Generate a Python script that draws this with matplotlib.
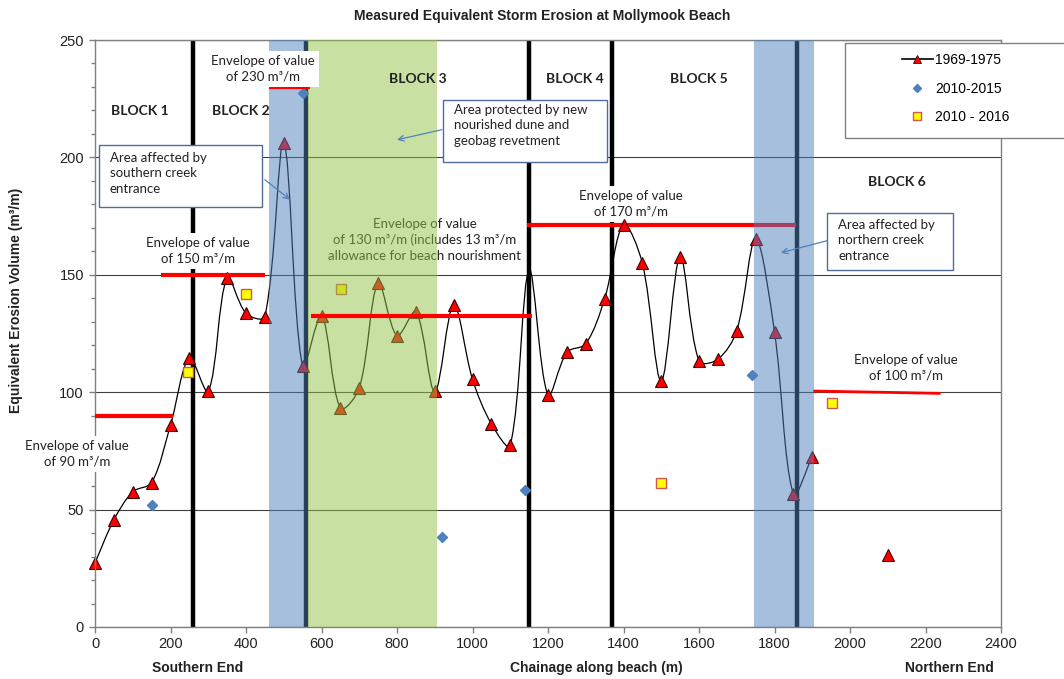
import numpy as np
import matplotlib
matplotlib.use('Agg')
import matplotlib.pyplot as plt
from matplotlib.path import Path
from matplotlib.patches import PathPatch, Rectangle
from matplotlib.lines import Line2D

# 1969-1975 profile, every 50 m (1150 has no visible marker)
chain_69 = [0, 50, 100, 150, 200, 250, 300, 350, 400, 450, 500, 550, 600, 650, 700,
            750, 800, 850, 900, 950, 1000, 1050, 1100, 1150, 1200, 1250, 1300, 1350,
            1400, 1450, 1500, 1550, 1600, 1650, 1700, 1750, 1800, 1850, 1900]
vol_69 = [27.3, 45.6, 57.6, 61.5, 86, 114.5, 100.3, 148.7, 133.6, 132.2, 206.3, 111,
          132.5, 93.2, 101.7, 146.4, 124.1, 134.3, 100.3, 137.2, 105.5, 86.5, 77.3, 152,
          98.8, 117, 120.6, 139.8, 171.3, 154.9, 104.8, 157.7, 113.3, 114, 126.2, 165.3,
          125.6, 56.5, 72.6]
hidden_marker = [1150]
chain_69_iso = [2100]
vol_69_iso = [30.7]

chain_15 = [150, 550, 920, 1140, 1740]
vol_15 = [52, 227.3, 38.2, 58.4, 107.4]

chain_16 = [247, 400, 652, 1500, 1951]
vol_16 = [108.4, 141.8, 143.9, 61.5, 95.3]

# envelopes: x start, x end, y start, y end
env_x0 = [0, 176, 461, 571, 1144, 1903]
env_x1 = [206, 450, 570, 1157, 1857, 2240]
env_y0 = [90, 150, 230, 132.5, 171, 100.5]
env_y1 = [90, 150, 230, 132.5, 171, 99.5]

block_lines = [260, 560, 1150, 1370, 1860]
creek_spans = [(460, 565), (1745, 1905)]
dune_span = (565, 905)

calibri = ['Lato', 'DejaVu Sans']
txt_col = '#222222'

plt.rcParams['font.family'] = ['Liberation Sans', 'DejaVu Sans']


def excel_smooth(x, y, sx, sy):
    # Bezier path through the points, tangents weighted by segment length (pixels)
    pts = np.column_stack([x, y]).astype(float)
    n = len(pts)
    scale = np.array([sx, sy])

    def dist(a, b):
        return np.hypot(*((b - a) * scale))

    verts = [pts[0]]
    codes = [Path.MOVETO]
    for i in range(n - 1):
        p0 = pts[max(i - 1, 0)]
        p1 = pts[i]
        p2 = pts[i + 1]
        p3 = pts[min(i + 2, n - 1)]
        d01, d12, d23 = dist(p0, p1), dist(p1, p2), dist(p2, p3)
        c1 = p1 + (p2 - p0) * d12 / (d01 + d12) / 3
        c2 = p2 - (p3 - p1) * d12 / (d12 + d23) / 3
        verts += [c1, c2, p2]
        codes += [Path.CURVE4] * 3
    return Path(verts, codes)


fig = plt.figure(figsize=(10.64, 6.79), dpi=100)
ax = fig.add_axes([95/1064, 1 - 627/679, 906/1064, 587/679])
ax.set_xlim(0, 2400)
ax.set_ylim(0, 250)
ax.set_xticks(np.arange(0, 2401, 200))
ax.set_yticks(np.arange(0, 251, 50))
ax.set_yticks(np.arange(0, 251, 10), minor=True)
ax.tick_params(axis='both', which='major', direction='out', length=4, width=1,
               color='#808080', labelsize=10.5, labelcolor='#222222')
ax.tick_params(axis='y', which='minor', direction='out', length=3, width=1, color='#808080')
ax.tick_params(axis='y', pad=4)
ax.tick_params(axis='x', pad=3)
for s in ax.spines.values():
    s.set_color('#808080')
    s.set_linewidth(1)
ax.grid(axis='y', which='major', color='#404040', lw=0.8, zorder=0.5)
ax.set_axisbelow(True)

for xb in block_lines:
    ax.axvline(xb, color='black', lw=3.2, zorder=1)

ax.add_patch(PathPatch(excel_smooth(chain_69, vol_69, 906/2400, 587/250),
                       fc='none', ec='black', lw=0.9, zorder=2))

mk = [c not in hidden_marker for c in chain_69]
tri = dict(marker='^', ms=9, mfc='red', mec='#3a0000', mew=0.8, ls='none', zorder=2.2,
           clip_on=False)
ax.plot(np.array(chain_69)[mk], np.array(vol_69)[mk], **tri)
ax.plot(chain_69_iso, vol_69_iso, **tri)
ax.plot(chain_15, vol_15, marker='D', ms=5.5, mfc='#4F81BD', mec='#4F81BD', ls='none', zorder=2.2)
ax.plot(chain_16, vol_16, marker='s', ms=7.5, mfc='#FFFF00', mec='#D0584D', mew=1,
        ls='none', zorder=2.2)

# shaded areas drawn over the data
for a, b in creek_spans:
    ax.axvspan(a, b, color='#4F81BD', alpha=0.5, lw=0, zorder=3)
ax.axvspan(dune_span[0], dune_span[1], color='#92C447', alpha=0.5, lw=0, zorder=3)

for i in range(len(env_x0)):
    z = 2.1 if env_y0[i] == 171 else 4
    ax.plot([env_x0[i], env_x1[i]], [env_y0[i], env_y1[i]], color='red',
            lw=3 if i < 5 else 2, solid_capstyle='butt', zorder=z)

# block labels
blocks = [('BLOCK 1', 119, 219.9), ('BLOCK 2', 387, 219.9), ('BLOCK 3', 854, 233.5),
          ('BLOCK 4', 1270, 233.5), ('BLOCK 5', 1600, 233.5), ('BLOCK 6', 2124, 189.6)]
for lab, xx, yy in blocks:
    ax.text(xx, yy, lab, family=calibri, fontsize=10, fontweight='bold', color=txt_col,
            ha='center', va='center', zorder=4.5)

wb = dict(boxstyle='square,pad=0.3', fc='white', ec='none')
env_txt = [('Envelope of value\nof 230 m³/m', 445, 237.7, 5),
           ('Envelope of value\nof 150 m³/m', 273, 160.2, 1.8),
           ('Envelope of value\nof 90 m³/m', -48, 73.7, 5),
           ('Envelope of value\nof 170 m³/m', 1420, 180.1, 1.8),
           ('Envelope of value\nof 100 m³/m', 2148, 110.6, 1.8)]
for t, xx, yy, z in env_txt:
    ax.text(xx, yy, t, family=calibri, fontsize=9.5, color=txt_col, ha='center', va='center',
            linespacing=1.35, bbox=wb, zorder=z, clip_on=False)
ax.text(874, 164.9, 'Envelope of value\nof 130 m³/m (includes 13 m³/m\nallowance for beach nourishment',
        family=calibri, fontsize=9.5, color=txt_col, ha='center', va='center', linespacing=1.35,
        zorder=1.5)

# callout boxes
boxes = [((10.6, 179), 431.8, 26.4, 'Area affected by\nsouthern creek\nentrance', 39.7, 202.4,
          (450, 190.5), (516.6, 182)),
         ((921.9, 198.1), 434.4, 26.4, 'Area protected by new\nnourished dune and\ngeobag revetment',
          951, 222.8, (919, 211.8), (800, 207.5)),
         ((1939, 152.1), 334, 24.3, 'Area affected by\nnorthern creek\nentrance', 1969, 173.8,
          (1939, 164.5), (1817, 159.4))]
for xy, w, h, t, tx, ty, a0, a1 in boxes:
    ax.add_patch(Rectangle(xy, w, h, fc='white', ec='#4F6C9A', lw=1, zorder=5))
    ax.text(tx, ty, t, family=calibri, fontsize=9.5, color=txt_col, ha='left', va='top',
            linespacing=1.35, zorder=5.1)
    ax.annotate('', xy=a1, xytext=a0, zorder=5,
                arrowprops=dict(arrowstyle='->', color='#4F81BD', lw=0.9, shrinkA=0, shrinkB=0))

fig.text(542/1064, 1 - 16/679, 'Measured Equivalent Storm Erosion at Mollymook Beach',
         fontsize=10, fontweight='bold', ha='center', va='center', color='#222222')
fig.text(198/1064, 1 - 668/679, 'Southern End', fontsize=10, fontweight='bold', ha='center',
         va='center', color='#222222')
fig.text(596/1064, 1 - 668/679, 'Chainage along beach (m)', fontsize=10, fontweight='bold',
         ha='center', va='center', color='#222222')
fig.text(949/1064, 1 - 668/679, 'Northern End', fontsize=10, fontweight='bold', ha='center',
         va='center', color='#222222')
fig.text(16/1064, 1 - 300/679, 'Equivalent Erosion Volume (m³/m)', fontsize=10,
         fontweight='bold', ha='center', va='center', rotation=90, color='#222222')

# legend
fig.patches.append(Rectangle((845/1064, 1 - 138/679), 225/1064, 95/679, fc='white',
                             ec='#808080', lw=1, transform=fig.transFigure, zorder=5))
handles = [Line2D([], [], color='black', lw=1.2, marker='^', ms=6, mfc='red', mec='#3a0000', mew=0.6),
           Line2D([], [], ls='none', marker='D', ms=4.5, mfc='#4F81BD', mec='#4F81BD'),
           Line2D([], [], ls='none', marker='s', ms=6, mfc='#FFFF00', mec='#D0584D')]
leg = fig.legend(handles, ['1969-1975', '2010-2015', '2010 - 2016'], loc='upper left',
                 bbox_to_anchor=(895/1064, 1 - 46/679), frameon=False, fontsize=10,
                 handlelength=2.2, handletextpad=0.2, labelspacing=1.05, borderpad=0)
leg.set_zorder(6)

fig.savefig('out.png', dpi=100)
